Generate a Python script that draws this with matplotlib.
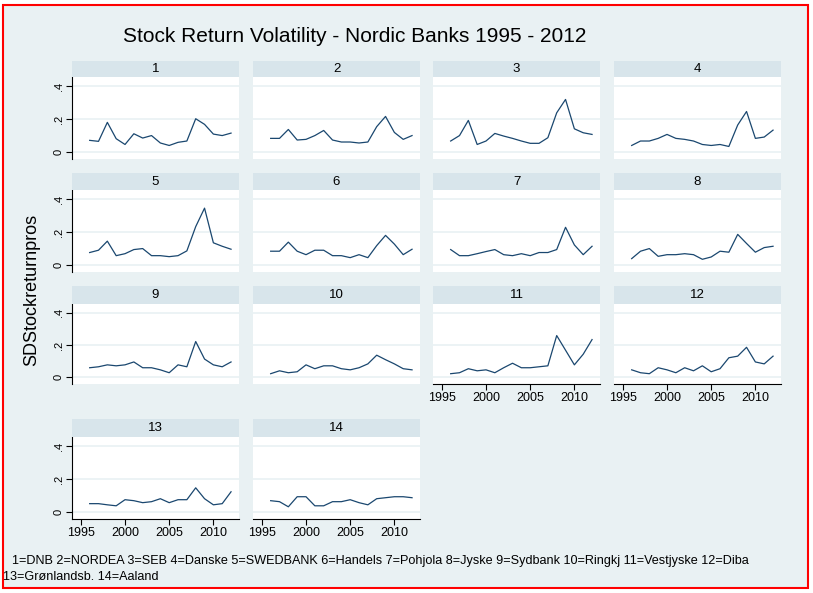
import matplotlib.pyplot as plt
from matplotlib.patches import Rectangle

W, H = 813, 593
years = list(range(1996, 2013))

# SD of stock returns per bank
bank1 = [0.071, 0.065, 0.180, 0.081, 0.046, 0.111, 0.085, 0.100, 0.055, 0.040, 0.059, 0.067, 0.202, 0.168, 0.109, 0.100, 0.115]
bank2 = [0.083, 0.083, 0.137, 0.073, 0.077, 0.100, 0.131, 0.073, 0.061, 0.061, 0.055, 0.061, 0.154, 0.216, 0.119, 0.077, 0.100]
bank3 = [0.067, 0.100, 0.192, 0.046, 0.067, 0.113, 0.097, 0.083, 0.067, 0.053, 0.053, 0.087, 0.238, 0.319, 0.141, 0.117, 0.107]
bank4 = [0.040, 0.067, 0.067, 0.083, 0.107, 0.083, 0.077, 0.067, 0.046, 0.040, 0.046, 0.034, 0.164, 0.246, 0.083, 0.091, 0.133]
bank5 = [0.076, 0.090, 0.145, 0.057, 0.069, 0.094, 0.100, 0.057, 0.057, 0.051, 0.057, 0.086, 0.233, 0.345, 0.135, 0.114, 0.096]
bank6 = [0.084, 0.084, 0.139, 0.084, 0.063, 0.090, 0.090, 0.057, 0.057, 0.045, 0.063, 0.045, 0.118, 0.180, 0.127, 0.063, 0.096]
bank7 = [0.094, 0.057, 0.057, 0.069, 0.082, 0.094, 0.063, 0.057, 0.069, 0.057, 0.076, 0.076, 0.094, 0.229, 0.122, 0.063, 0.114]
bank8 = [0.039, 0.084, 0.100, 0.053, 0.063, 0.063, 0.069, 0.063, 0.035, 0.049, 0.084, 0.078, 0.186, 0.131, 0.078, 0.106, 0.114]
bank9 = [0.059, 0.065, 0.077, 0.071, 0.077, 0.095, 0.059, 0.059, 0.046, 0.028, 0.077, 0.065, 0.222, 0.113, 0.077, 0.065, 0.095]
bank10 = [0.022, 0.040, 0.028, 0.034, 0.077, 0.053, 0.071, 0.071, 0.053, 0.046, 0.059, 0.083, 0.137, 0.109, 0.083, 0.053, 0.046]
bank11 = [0.022, 0.028, 0.053, 0.040, 0.046, 0.028, 0.059, 0.087, 0.059, 0.059, 0.065, 0.071, 0.259, 0.168, 0.077, 0.143, 0.234]
bank12 = [0.046, 0.028, 0.022, 0.059, 0.046, 0.028, 0.059, 0.040, 0.071, 0.034, 0.053, 0.121, 0.131, 0.186, 0.095, 0.083, 0.131]
bank13 = [0.051, 0.051, 0.044, 0.038, 0.075, 0.069, 0.057, 0.063, 0.081, 0.057, 0.075, 0.075, 0.147, 0.081, 0.044, 0.051, 0.123]
bank14 = [0.069, 0.063, 0.032, 0.093, 0.093, 0.038, 0.038, 0.063, 0.063, 0.075, 0.057, 0.044, 0.081, 0.087, 0.093, 0.093, 0.087]
series = [bank1, bank2, bank3, bank4, bank5, bank6, bank7, bank8, bank9, bank10, bank11, bank12, bank13, bank14]

yticks = [0, 0.2, 0.4]
yticklabels = ['0', '.2', '.4']
xticks = [1995, 2000, 2005, 2010]

bg = '#E9F1F3'
strip_c = '#D8E5EB'
line_c = '#1A476F'

fig = plt.figure(figsize=(W / 100, H / 100), dpi=100)
fig.patch.set_facecolor('white')
fig.patches.append(Rectangle((3 / W, 1 - 588 / H), 805 / W, 583 / H, transform=fig.transFigure,
                             facecolor=bg, edgecolor='red', lw=1.5, zorder=-10))

# panel geometry in pixels
col_x = [72, 253, 433, 614]
panel_w = 167
rows = [(61, 77, 159), (173, 190, 272), (286, 304, 384), (419, 437, 519)]


def px(x, y, w, h):
    return [x / W, 1 - (y + h) / H, w / W, h / H]


for i, vals in enumerate(series):
    r, c = divmod(i, 4)
    x0 = col_x[c]
    s_top, p_top, p_bot = rows[r]
    # strip
    fig.patches.append(Rectangle((x0 / W, 1 - p_top / H), panel_w / W, (p_top - s_top) / H,
                                 transform=fig.transFigure, facecolor=strip_c, edgecolor='none'))
    fig.text((x0 + panel_w / 2) / W, 1 - (s_top + p_top) / 2 / H, str(i + 1),
             ha='center', va='center', fontsize=9.5, family='Liberation Sans')

    ax = fig.add_axes(px(x0, p_top, panel_w, p_bot - p_top))
    ax.set_facecolor('white')
    ax.plot(years, vals, color=line_c, lw=0.9)
    ax.set_xlim(1994.0, 2012.9)
    ax.set_ylim(-0.042, 0.455)
    for yv in yticks:
        ax.axhline(yv, color=bg, lw=1.2, zorder=0)
    for sp in ax.spines.values():
        sp.set_visible(False)
    show_x = i >= 10
    ax.set_xticks(xticks)
    ax.set_yticks(yticks)
    if show_x:
        ax.spines['bottom'].set_visible(True)
        ax.spines['bottom'].set_color('black')
        ax.tick_params(axis='x', length=4, labelsize=9, pad=2)
        ax.set_xticklabels([str(t) for t in xticks], family='Liberation Sans')
    else:
        ax.tick_params(axis='x', length=0, labelbottom=False)
    if c == 0:
        ax.spines['left'].set_visible(True)
        ax.spines['left'].set_color('black')
        ax.tick_params(axis='y', length=4, labelsize=8, pad=2)
        ax.set_yticklabels(yticklabels, rotation=90, va='center', family='Liberation Sans')
    else:
        ax.tick_params(axis='y', length=0, labelleft=False)

fig.text(355 / W, 1 - 37 / H, 'Stock Return Volatility - Nordic Banks 1995 - 2012',
         ha='center', va='center', fontsize=15, family='Liberation Sans')
fig.text(32 / W, 1 - 290 / H, 'SDStockreturnpros', rotation=90,
         ha='center', va='center', fontsize=13, family='Liberation Sans')
fig.text(12 / W, 1 - 561 / H,
         '1=DNB 2=NORDEA 3=SEB 4=Danske 5=SWEDBANK 6=Handels 7=Pohjola 8=Jyske 9=Sydbank 10=Ringkj 11=Vestjyske 12=Diba',
         ha='left', va='center', fontsize=9.1, family='Liberation Sans')
fig.text(3 / W, 1 - 577 / H, '13=Grønlandsb. 14=Aaland',
         ha='left', va='center', fontsize=9.1, family='Liberation Sans')

fig.savefig('out.png', dpi=100, facecolor=fig.get_facecolor())
